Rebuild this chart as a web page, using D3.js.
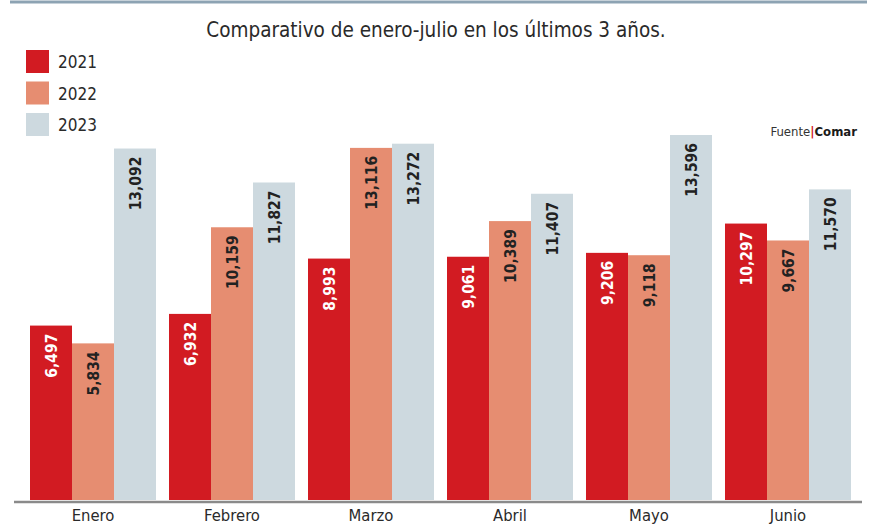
<!DOCTYPE html>
<html>
<head>
<meta charset="utf-8">
<script src="https://cdn.jsdelivr.net/npm/d3@7"></script>
<style>
  body { margin: 0; background: #fff; }
  svg { display: block; }
</style>
</head>
<body>
<svg></svg>
<script>
let months = ['Enero', 'Febrero', 'Marzo', 'Abril', 'Mayo', 'Junio']
let years = ['2021', '2022', '2023']
let v2021 = [6497, 6932, 8993, 9061, 9206, 10297]
let v2022 = [5834, 10159, 13116, 10389, 9118, 9667]
let v2023 = [13092, 11827, 13272, 11407, 13596, 11570]
let colors = ['#d21b22', '#e68d71', '#cdd9df']
let textColors = ['#ffffff', '#222222', '#222222']

let width = 877
let height = 525
let baseY = 500

let svg = d3.select('svg').attr('width', width).attr('height', height)
let narrow = "'DejaVu Sans Condensed', 'Liberation Sans Narrow', sans-serif"

let series = [v2021, v2022, v2023]
let rows = []
months.forEach((m, i) => {
    years.forEach((y, j) => {
        rows.push({ month: m, year: y, k: j, value: series[j][i] })
    })
})

let xScale = d3.scaleBand()
    .domain(months)
    .range([30, 851])
    .paddingInner(0.0935)
    .paddingOuter(0)

let xInner = d3.scaleBand()
    .domain(years)
    .range([0, xScale.bandwidth()])

let yScale = d3.scaleLinear()
    .domain([0, 13596])
    .range([baseY, 135])

// top rule
svg.append('line')
    .attr('x1', 10).attr('x2', 867)
    .attr('y1', 2).attr('y2', 2)
    .attr('stroke', '#8da3b3').attr('stroke-width', 3)

svg.append('text')
    .attr('x', 436).attr('y', 37)
    .attr('text-anchor', 'middle')
    .style('font-family', narrow)
    .style('font-size', '20.5px')
    .attr('fill', '#2a2a2a')
    .text('Comparativo de enero-julio en los últimos 3 años.')

// legend
let legend = svg.append('g')
years.forEach((y, j) => {
    legend.append('rect')
        .attr('x', 26).attr('y', 50 + j * 31.5)
        .attr('width', 23).attr('height', 23)
        .attr('fill', colors[j])
    legend.append('text')
        .attr('x', 58).attr('y', 68 + j * 31.5)
        .style('font-family', narrow)
        .style('font-size', '17px')
        .attr('fill', '#2a2a2a')
        .text(y)
})

// source
let src = svg.append('text')
    .attr('x', 857).attr('y', 136)
    .attr('text-anchor', 'end')
    .style('font-family', narrow)
    .style('font-size', '13px')
    .attr('fill', '#333')
src.append('tspan').text('Fuente')
src.append('tspan').attr('fill', '#d21b22').attr('font-weight', 'bold').text('|')
src.append('tspan').attr('font-weight', 'bold').attr('fill', '#1a1a1a').text('Comar')

// bars
svg.selectAll('rect.bar')
    .data(rows)
    .enter()
    .append('rect')
    .attr('class', 'bar')
    .attr('x', (d) => xScale(d.month) + xInner(d.year))
    .attr('y', (d) => yScale(d.value))
    .attr('width', xInner.bandwidth())
    .attr('height', (d) => baseY - yScale(d.value))
    .attr('fill', (d) => colors[d.k])

svg.selectAll('text.val')
    .data(rows)
    .enter()
    .append('text')
    .attr('class', 'val')
    .attr('transform', (d) => {
        let cx = xScale(d.month) + xInner(d.year) + xInner.bandwidth() / 2 + 6
        let ty = yScale(d.value) + 8
        return 'translate(' + cx + ',' + ty + ') rotate(-90)'
    })
    .attr('text-anchor', 'end')
    .style('font-family', narrow)
    .style('font-size', '15.5px')
    .style('font-weight', 'bold')
    .attr('fill', (d) => textColors[d.k])
    .text((d) => d3.format(',')(d.value))

// baseline
svg.append('line')
    .attr('x1', 14).attr('x2', 862)
    .attr('y1', baseY + 2).attr('y2', baseY + 2)
    .attr('stroke', '#8a8a8a').attr('stroke-width', 2.5)

let xAxis = d3.axisBottom(xScale).tickSize(0).tickPadding(6)
let gx = svg.append('g')
    .attr('transform', 'translate(0,' + (baseY + 3) + ')')
    .call(xAxis)
gx.select('.domain').remove()
gx.selectAll('text')
    .style('font-family', narrow)
    .style('font-size', '16.5px')
    .attr('fill', '#2a2a2a')
</script>
</body>
</html>
